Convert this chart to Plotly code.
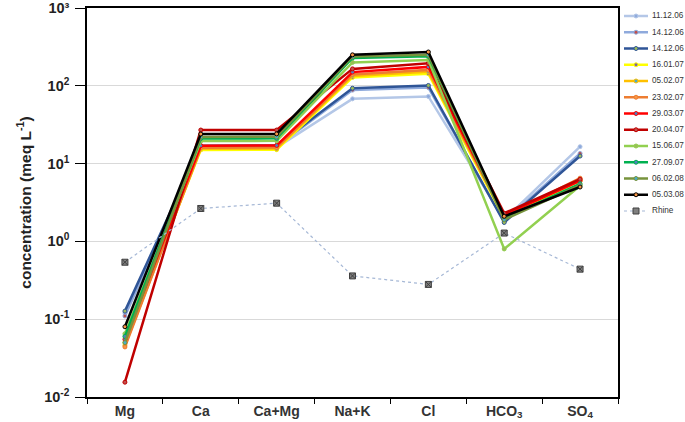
import plotly.graph_objects as go

categories = ["Mg", "Ca", "Ca+Mg", "Na+K", "Cl", "HCO<sub>3</sub>", "SO<sub>4</sub>"]

s_111206 = [0.12, 16.0, 16.1, 68, 73, 1.9, 16.5]
s_141206a = [0.11, 16.5, 16.6, 88, 95, 1.8, 13.5]
s_141206b = [0.127, 17.0, 17.1, 93, 101, 1.75, 12.5]
s_160107 = [0.05, 15.0, 15.1, 128, 143, 2.0, 6.0]
s_050207 = [0.046, 15.5, 15.6, 134, 152, 2.1, 6.2]
s_230207 = [0.044, 16.0, 16.1, 140, 160, 2.1, 6.5]
s_290307 = [0.055, 17.0, 17.1, 150, 175, 2.2, 6.0]
s_200407 = [0.0155, 27.0, 27.0, 165, 195, 2.3, 6.3]
s_150607 = [0.065, 19.5, 19.6, 200, 215, 0.8, 5.2]
s_270907 = [0.06, 21.0, 21.1, 228, 240, 2.0, 5.5]
s_060208 = [0.05, 22.0, 22.1, 238, 250, 1.9, 5.3]
s_050308 = [0.08, 24.0, 24.1, 250, 272, 2.1, 5.0]
s_rhine = [0.54, 2.65, 3.1, 0.36, 0.28, 1.28, 0.44]

series = [
    ("11.12.06", s_111206, "#b4c7e7", "#8faadc"),
    ("14.12.06", s_141206a, "#8faadc", "#c0504d"),
    ("14.12.06", s_141206b, "#2f5597", "#9bbb59"),
    ("16.01.07", s_160107, "#ffff00", "#8064a2"),
    ("05.02.07", s_050207, "#ffc000", "#4bacc6"),
    ("23.02.07", s_230207, "#ed7d31", "#f79646"),
    ("29.03.07", s_290307, "#ff0000", "#4f81bd"),
    ("20.04.07", s_200407, "#c00000", "#c0504d"),
    ("15.06.07", s_150607, "#92d050", "#9bbb59"),
    ("27.09.07", s_270907, "#00b050", "#4f81bd"),
    ("06.02.08", s_060208, "#77933c", "#4bacc6"),
    ("05.03.08", s_050308, "#000000", "#f79646"),
]

W, H = 685, 422
ML, MR, MT, MB = 87, 67, 8, 25
PW, PH = W - ML - MR, H - MT - MB


def px(x):
    return (x - ML) / PW


def py(y):
    return (H - MB - y) / PH


fig = go.Figure()
for name, vals, col, mcol in series:
    fig.add_trace(go.Scatter(
        x=categories, y=vals, name=name, mode="lines+markers",
        line=dict(color=col, width=2.5),
        marker=dict(symbol="circle", size=4, color=mcol, line=dict(color=col, width=1)),
    ))
fig.add_trace(go.Scatter(
    x=categories, y=s_rhine, name="Rhine", mode="lines+markers",
    line=dict(color="#a6b8d6", width=1.2, dash="dot"),
    marker=dict(symbol="square-x", size=6, color="#7f7f7f", line=dict(color="#404040", width=1)),
))

# custom legend (compact, like the reference)
shapes, annotations = [], []
entries = [(n, c, m, "solid", 2.5) for n, _, c, m in series] + [("Rhine", "#a6b8d6", "#7f7f7f", "dot", 1.2)]
for i, (name, col, mcol, dash, lw) in enumerate(entries):
    yc = 16 + i * 16.25
    shapes.append(dict(type="line", xref="paper", yref="paper",
                       x0=px(624), x1=px(648), y0=py(yc), y1=py(yc),
                       line=dict(color=col, width=lw, dash=dash)))
    if name == "Rhine":
        shapes.append(dict(type="rect", xref="paper", yref="paper",
                           x0=px(633), x1=px(639), y0=py(yc - 3), y1=py(yc + 3),
                           fillcolor="#7f7f7f", line=dict(color="#404040", width=1)))
    else:
        shapes.append(dict(type="circle", xref="paper", yref="paper",
                           x0=px(634), x1=px(638), y0=py(yc - 2), y1=py(yc + 2),
                           fillcolor=mcol, line=dict(color=col, width=1)))
    annotations.append(dict(text=name, xref="paper", yref="paper",
                            x=px(650), y=py(yc), xanchor="left", yanchor="middle",
                            showarrow=False, font=dict(size=8.2, color="#333333")))

tickvals = [0.01, 0.1, 1, 10, 100, 1000]
ticktext = ["<b>10<sup>-2</sup></b>", "<b>10<sup>-1</sup></b>", "<b>10<sup>0</sup></b>",
            "<b>10<sup>1</sup></b>", "<b>10<sup>2</sup></b>", "<b>10³</b>"]

fig.update_layout(
    width=W, height=H,
    margin=dict(l=ML, r=MR, t=MT, b=MB, autoexpand=False),
    paper_bgcolor="white", plot_bgcolor="white",
    font=dict(family="Liberation Sans, Arial, sans-serif", color="#222222"),
    showlegend=False,
    shapes=shapes, annotations=annotations,
    xaxis=dict(
        type="category", range=[-0.5, 6.5],
        showline=True, linecolor="black", linewidth=1.5, mirror=True,
        ticks="outside", tickson="boundaries", ticklen=5, tickcolor="black",
        tickfont=dict(size=14, color="#333333", weight="bold"),
        showgrid=False,
    ),
    yaxis=dict(
        type="log", range=[-2, 3],
        tickvals=tickvals, ticktext=ticktext,
        showline=True, linecolor="black", linewidth=1.5, mirror=True,
        ticks="outside", ticklen=10, tickcolor="black", ticklabelstandoff=3,
        ticklabeloverflow="allow",
        tickfont=dict(size=14.5, color="#222222"),
        showgrid=True, gridcolor="#d9d9d9", gridwidth=1,
        title=dict(text="<b>concentration (meq L<sup>-1</sup>)</b>", font=dict(size=15.5), standoff=9),
    ),
)

fig.write_html("out.html", config={"displayModeBar": False},
               post_script="document.body.style.margin='0';document.body.style.overflow='hidden';")
